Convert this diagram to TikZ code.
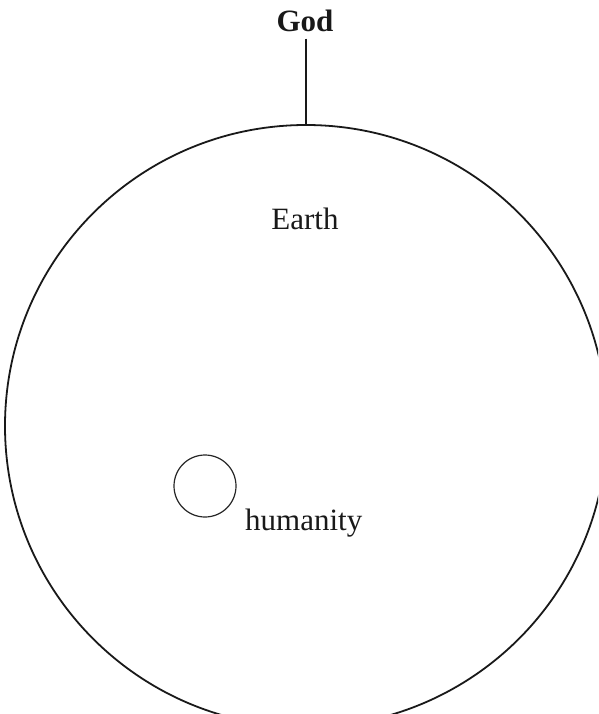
\documentclass[tikz,border=0pt]{standalone}
\usepackage{fontspec}
\setmainfont{Liberation Serif}
\usepackage{tikz}
\usetikzlibrary{positioning}
\tikzset{
  sphere/.style={draw=black!90, circle, line width=1.8pt, inner sep=0pt},
  smallsphere/.style={draw=black!85, circle, line width=1.2pt, inner sep=0pt},
  linkline/.style={draw=black!90, line width=1.8pt},
  caption/.style={inner sep=0pt, anchor=base, font=\fontsize{31}{36}\selectfont, text=black!90}
}
\begin{document}
\begin{tikzpicture}[x=1pt, y=1pt]
        \useasboundingbox (0,0) rectangle (598,-714);
        \clip (0,0) rectangle (598,-714);
        \node[sphere, minimum size=602pt] (world) at (306,-426) {};
        \node[caption, font=\fontsize{31}{36}\selectfont\bfseries] (god) at (305,-32) {God};
        \node[caption] (earth) at (305,-229) {Earth};
        \node[smallsphere, minimum size=62pt] (human) at (205,-486) {};
        \node[caption, anchor=base west] (humanity) at (245,-530) {humanity};
        \coordinate (godfoot) at ([yshift=-6pt]god.south -| world.north);
        \draw[linkline] (godfoot) -- (world.north);
    \end{tikzpicture}
\end{document}
